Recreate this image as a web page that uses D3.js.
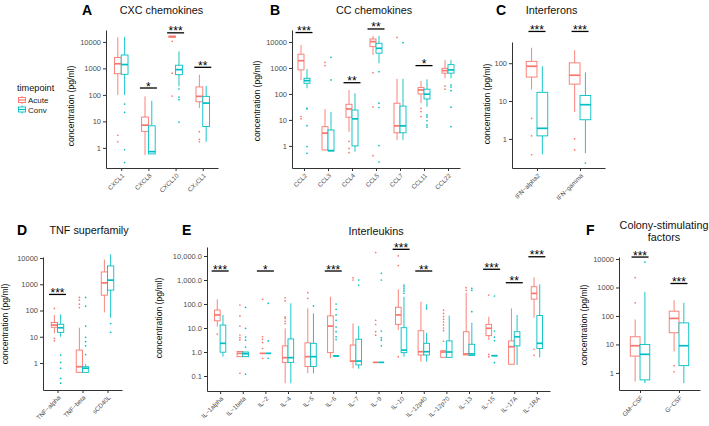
<!DOCTYPE html>
<html><head><meta charset="utf-8">
<script src="https://cdn.jsdelivr.net/npm/d3@7"></script>
<style>
body{margin:0;background:#fff}
svg{display:block}
text{font-family:"Liberation Sans",Arial,Helvetica,sans-serif}
</style>
</head><body>
<svg id="chart" width="709" height="426"></svg>
<script>
// ---------------- DATA ----------------
// box stats: [lower whisker, q1, median, q3, upper whisker]
const seriesNames = ["Acute", "Conv"];

// A: CXC chemokines
const aCats = ["CXCL1", "CXCL8", "CXCL10", "CX\u2083CL1"];
const aAcute = [[100,630,1500,2600,14700],[0.54,4.2,7.2,14.6,88],[14000,15000,16000,16500,17000],[32,55,88,200,580]];
const aConv  = [[100,600,1400,3200,15500],[0.59,0.59,0.72,6.8,60],[210,580,900,1320,4400],[1.7,6.4,49,88,220]];
const aAcuteOut = [[3,1.7],[],[10500,660,90],[4.1,2.1,1.7]];
const aConvOut  = [[45,22,0.85,0.28],[],[167,83,66,9.4],[]];
const aSig = [["CXCL8","*",182],["CXCL10","***",22000],["CX\u2083CL1","**",1100]];

// B: CC chemokines
const bCats = ["CCL2","CCL3","CCL4","CCL5","CCL7","CCL11","CCL22"];
const bAcute = [[345,840,1900,3380,7600],[0.68,0.7,3.1,5.5,26],[3.5,12.7,26.5,40,142],[3150,6600,10300,13000,17000],[1.7,3.2,5.9,44,380],[44,100,142,175,316],[400,630,790,970,2040]];
const bConv  = [[165,257,325,400,910],[0.64,0.64,0.66,4.1,20],[0.6,1,11,24,106],[1520,3700,5700,8900,17000],[1.7,3.2,5.9,34,380],[32,64,98,152,365],[400,630,840,1340,2040]];
const bAcuteOut = [[13.4,11],[1650,1230],[1.5,0.8,0.55],[660,32,0.42],[15000],[28,21,13.4],[203,152]];
const bConvOut  = [[28,27,6,0.94,0.52],[2570,345],[],[720,44,30,1.03,0.24],[9400],[15.6,13,9.4,6.4,5.3],[220,185,134,31,5.5]];
const bSig = [["CCL2","***",23000],["CCL4","**",270],["CCL5","**",31600],["CCL11","*",1230]];

// C: Interferons
const cCats = ["IFN\u2212alpha2","IFN\u2212gamma"];
const cAcute = [[20,43,83,112,255],[5.1,28,48,102,220]];
const cConv  = [[0.39,1.2,1.9,17,83],[0.42,3.2,8,14,57]];
const cAcuteOut = [[3.5,1.2,0.38],[1.0,0.51]];
const cConvOut  = [[],[0.23]];
const cSig = [["IFN\u2212alpha2","***",690],["IFN\u2212gamma","***",690]];

// D: TNF superfamily
const dCats = ["TNF\u2212alpha","TNF\u2212beta","sCD40L"];
const dAcute = [[13.5,23,28,35,67],[0.44,0.44,0.72,3.1,22],[85,385,1130,2950,8700]];
const dConv  = [[10,14.7,22,30,71],[0.44,0.44,0.63,0.72,0.9],[53,600,1440,5000,13800]];
const dAcuteOut = [[120,8.7,7],[316,250,175,130],[]];
const dConvOut  = [[2,1.06,0.63,0.26,0.17],[316,147,25.6,9.5,6.5,4.5,2.1],[32,14.7]];
const dSig = [["TNF\u2212alpha","***",410]];

// E: Interleukins
const eCats = ["IL\u22121alpha","IL\u22121beta","IL\u22122","IL\u22124","IL\u22125","IL\u22126","IL\u22127","IL\u22129","IL\u221210","IL\u221212p40","IL\u221212p70","IL\u221213","IL\u221215","IL\u221217A","IL\u22121RA"];
const eAcute = [[11.3,20,35,56,158],[0.64,0.64,0.88,1.05,1.05],[0.88,0.88,0.88,0.88,0.88],[0.05,0.37,0.58,1.8,9.7],[0.13,0.25,0.64,2.4,66],[0.55,0.94,12,32,200],[0.21,0.4,0.42,1.95,15.6],[0.37,0.37,0.37,0.37,0.37],[8.3,14.2,35,73,410],[0.4,0.75,1.03,7.7,125],[0.6,0.6,1.0,1.13,1.13],[0.75,0.75,0.83,7,295],[3.2,4.8,9.7,14.2,29.6],[0.31,0.31,1.66,2.9,66],[27,160,277,525,1300]];
const eConv  = [[0.64,0.98,2.3,13.3,35],[0.64,0.64,0.85,1.0,1.0],[0.88,0.88,0.88,0.88,0.88],[0.05,0.37,0.58,3.5,107],[0.13,0.25,0.64,2.3,41],[0.68,0.68,0.68,0.7,0.72],[0.2,0.29,0.42,3.4,12],[0.37,0.37,0.37,0.37,0.37],[0.64,0.94,1.2,10.3,200],[0.4,0.75,1.03,2.3,6.3],[0.6,0.6,1.0,2.9,32.6],[0.72,0.72,0.83,2.1,13.3],[0.7,0.7,0.7,0.72,0.72],[0.29,1.8,4.3,7,35],[0.6,1.4,2.3,33,660]];
const eAcuteOut = [[5.6],[91,32,12,5.1,4,3.2,0.13],[158,4.3,3.4,2.5,1.4,0.55],[180,135,29,25,19,15],[295,173],[],[1250,1000],[14000,21,14,7,5],[10200,4000,0.64],[],[56,41,30,23,17.8,13.5,10,7.7,2.8],[480,370],[237,0.8,0.64],[],[1.3,0.73]];
const eConvOut  = [[],[73,9.7,4.2,3.1,1.6,0.12],[107,2.9,0.55],[],[83],[100,60,35,21,11,7,4.3,3.3],[1000,620],[1900,1000,7.5,3.9,3.1,1.8],[620,520,430,350,280],[91,75,63],[],[450,370,48,15],[215,7.5,4.2,3.0,0.36],[],[]];
const eSig = [["IL\u22121alpha","***",2370],["IL\u22122","*",2370],["IL\u22126","***",2370],["IL\u221210","***",19000],["IL\u221212p40","**",2370],["IL\u221215","***",2800],["IL\u221217A","**",770],["IL\u22121RA","***",9300]];

// F: Colony-stimulating factors
const fCats = ["GM\u2212CSF","G\u2212CSF"];
const fAcute = [[0.5,3.9,9,18.6,75],[5.6,25.7,82,147,355]];
const fConv  = [[0.44,0.57,4.5,10,700],[0.44,1.8,9,57,290]];
const fAcuteOut = [[2200,290],[1.8,1.1]];
const fConvOut  = [[7800],[]];
const fSig = [["GM\u2212CSF","***",11700],["G\u2212CSF","***",1380]];

const ticksStd = [1,10,100,1000,10000];
const ticksC = [1,10,100];
const ticksE = [0.1,1,10,100,1000,10000];

// ---------------- LAYOUT ----------------
const COLORS = ["#F8766D", "#00BFC4"];
const fmtInt = d3.format("d");
const fmtE = d3.format(",.1f");

const panels = [
  {letter:"A", lx:82, ly:14.5, title:["CXC chemokines"], tx:161.5, ty:[13.5],
   cats:aCats, stats:[aAcute,aConv], outs:[aAcuteOut,aConvOut], sig:aSig,
   x0:106, x1:218, pad:0.56, yTop:30, yBot:168, dom:[-0.76,4.45], ticks:ticksStd, fmt:fmtInt, ylx:74, yly:106},
  {letter:"B", lx:270, ly:14.5, title:["CC chemokines"], tx:374, ty:[13.5],
   cats:bCats, stats:[bAcute,bConv], outs:[bAcuteOut,bConvOut], sig:bSig,
   x0:292, x1:460, pad:0.5, yTop:30, yBot:168, dom:[-0.85,4.46], ticks:ticksStd, fmt:fmtInt, ylx:260, yly:101},
  {letter:"C", lx:496, ly:14.5, title:["Interferons"], tx:551.5, ty:[13.5],
   cats:cCats, stats:[cAcute,cConv], outs:[cAcuteOut,cConvOut], sig:cSig,
   x0:512, x1:605, pad:0.58, yTop:42, yBot:168, dom:[-0.77,2.56], ticks:ticksC, fmt:fmtInt, ylx:490, yly:104},
  {letter:"D", lx:17, ly:235, title:["TNF superfamily"], tx:89, ty:[234],
   cats:dCats, stats:[dAcute,dConv], outs:[dAcuteOut,dConvOut], sig:dSig,
   x0:43, x1:122, pad:0.58, yTop:257, yBot:390, dom:[-1.03,4.04], ticks:ticksStd, fmt:fmtInt, ylx:7.5, yly:324},
  {letter:"E", lx:182, ly:235, title:["Interleukins"], tx:376, ty:[235],
   cats:eCats, stats:[eAcute,eConv], outs:[eAcuteOut,eConvOut], sig:eSig,
   x0:207, x1:550, pad:0.58, yTop:247, yBot:391, dom:[-1.625,4.375], ticks:ticksE, fmt:fmtE, ylx:162, yly:318},
  {letter:"F", lx:586, ly:235, title:["Colony-stimulating","factors"], tx:664, ty:[229,240.5],
   cats:fCats, stats:[fAcute,fConv], outs:[fAcuteOut,fConvOut], sig:fSig,
   x0:619, x1:700, pad:0.54, yTop:257, yBot:390, dom:[-0.6,4.07], ticks:ticksStd, fmt:fmtInt, ylx:587, yly:325}
];

const svg = d3.select("#chart");

function drawPanel(p) {
  const g = svg.append("g");
  const x = d3.scalePoint().domain(p.cats).range([p.x0, p.x1]).padding(p.pad);
  const y = d3.scaleLog().domain([Math.pow(10,p.dom[0]), Math.pow(10,p.dom[1])]).range([p.yBot, p.yTop]);
  const step = x.step();
  const bw = step * 0.25;

  // y axis
  const ya = g.append("g").attr("transform", `translate(${p.x0},0)`)
    .call(d3.axisLeft(y).tickValues(p.ticks).tickFormat(p.fmt).tickSize(3).tickSizeOuter(0).tickPadding(2));
  ya.selectAll("text").attr("font-size", 7.5).attr("fill", "#4d4d4d")
    .attr("font-family", '"Liberation Sans",Arial,sans-serif');
  ya.select(".domain").attr("stroke", "#333").attr("stroke-width", 1);
  ya.selectAll(".tick line").attr("stroke", "#333");

  // x axis
  const xa = g.append("g").attr("transform", `translate(0,${p.yBot})`)
    .call(d3.axisBottom(x).tickSize(3).tickSizeOuter(0));
  xa.selectAll("text").attr("x", 0).attr("y", 0).attr("dy", "0.35em")
    .attr("transform", "translate(1.5,6.5) rotate(-45)")
    .style("text-anchor", "end")
    .attr("font-size", 6.3).attr("fill", "#4d4d4d")
    .attr("font-family", '"Liberation Sans",Arial,sans-serif');
  xa.select(".domain").attr("stroke", "#333").attr("stroke-width", 1);
  xa.selectAll(".tick line").attr("stroke", "#333");

  // y axis title
  g.append("text").attr("transform", `translate(${p.ylx},${p.yly}) rotate(-90)`)
    .attr("text-anchor", "middle").attr("font-size", 8.6).attr("fill", "#111")
    .text("concentration (pg/ml)");

  // panel letter + title
  g.append("text").attr("x", p.lx).attr("y", p.ly).attr("font-size", 14).attr("font-weight", "bold")
    .attr("fill", "#000").text(p.letter);
  p.title.forEach((t, i) => {
    g.append("text").attr("x", p.tx).attr("y", p.ty[i]).attr("text-anchor", "middle")
      .attr("font-size", 10.8).attr("fill", "#111").text(t);
  });

  // boxes
  [0, 1].forEach(s => {
    const col = COLORS[s];
    const off = (s === 0 ? -1 : 1) * step * 0.125;
    p.cats.forEach((c, i) => {
      const st = p.stats[s][i];
      const cx = x(c) + off;
      const bg = g.append("g");
      bg.append("line").attr("x1", cx).attr("x2", cx).attr("y1", y(st[0])).attr("y2", y(st[1]))
        .attr("stroke", col).attr("stroke-width", 0.9);
      bg.append("line").attr("x1", cx).attr("x2", cx).attr("y1", y(st[3])).attr("y2", y(st[4]))
        .attr("stroke", col).attr("stroke-width", 0.9);
      bg.append("rect").attr("x", cx - bw / 2).attr("width", bw)
        .attr("y", y(st[3])).attr("height", Math.max(0, y(st[1]) - y(st[3])))
        .attr("fill", "#fff").attr("stroke", col).attr("stroke-width", 0.9);
      bg.append("line").attr("x1", cx - bw / 2).attr("x2", cx + bw / 2).attr("y1", y(st[2])).attr("y2", y(st[2]))
        .attr("stroke", col).attr("stroke-width", 1.7);
      p.outs[s][i].forEach(v => {
        bg.append("circle").attr("cx", cx).attr("cy", y(v)).attr("r", 0.85).attr("fill", col);
      });
    });
  });

  // significance
  p.sig.forEach(([c, lab, v]) => {
    const cx = x(c), yy = y(v);
    g.append("line").attr("x1", cx - 8.5).attr("x2", cx + 8.5).attr("y1", yy).attr("y2", yy)
      .attr("stroke", "#000").attr("stroke-width", 1.3);
    g.append("text").attr("x", cx).attr("y", yy + 2.5).attr("text-anchor", "middle")
      .attr("font-size", 12).attr("fill", "#000").text(lab);
  });
}

panels.forEach(drawPanel);

// legend
const lg = svg.append("g");
lg.append("text").attr("x", 17).attr("y", 91).attr("font-size", 9.2).attr("fill", "#111").text("timepoint");
seriesNames.forEach((n, i) => {
  const yc = 100 + i * 9.5;
  const col = COLORS[i];
  lg.append("line").attr("x1", 22).attr("x2", 22).attr("y1", yc - 4).attr("y2", yc + 4)
    .attr("stroke", col).attr("stroke-width", 0.9);
  lg.append("rect").attr("x", 18.5).attr("y", yc - 2.5).attr("width", 7).attr("height", 5)
    .attr("fill", "#fff").attr("stroke", col).attr("stroke-width", 0.9);
  lg.append("line").attr("x1", 18.5).attr("x2", 25.5).attr("y1", yc).attr("y2", yc)
    .attr("stroke", col).attr("stroke-width", 1.2);
  lg.append("text").attr("x", 28).attr("y", yc + 3).attr("font-size", 8).attr("fill", "#222").text(n);
});
</script>
</body></html>
